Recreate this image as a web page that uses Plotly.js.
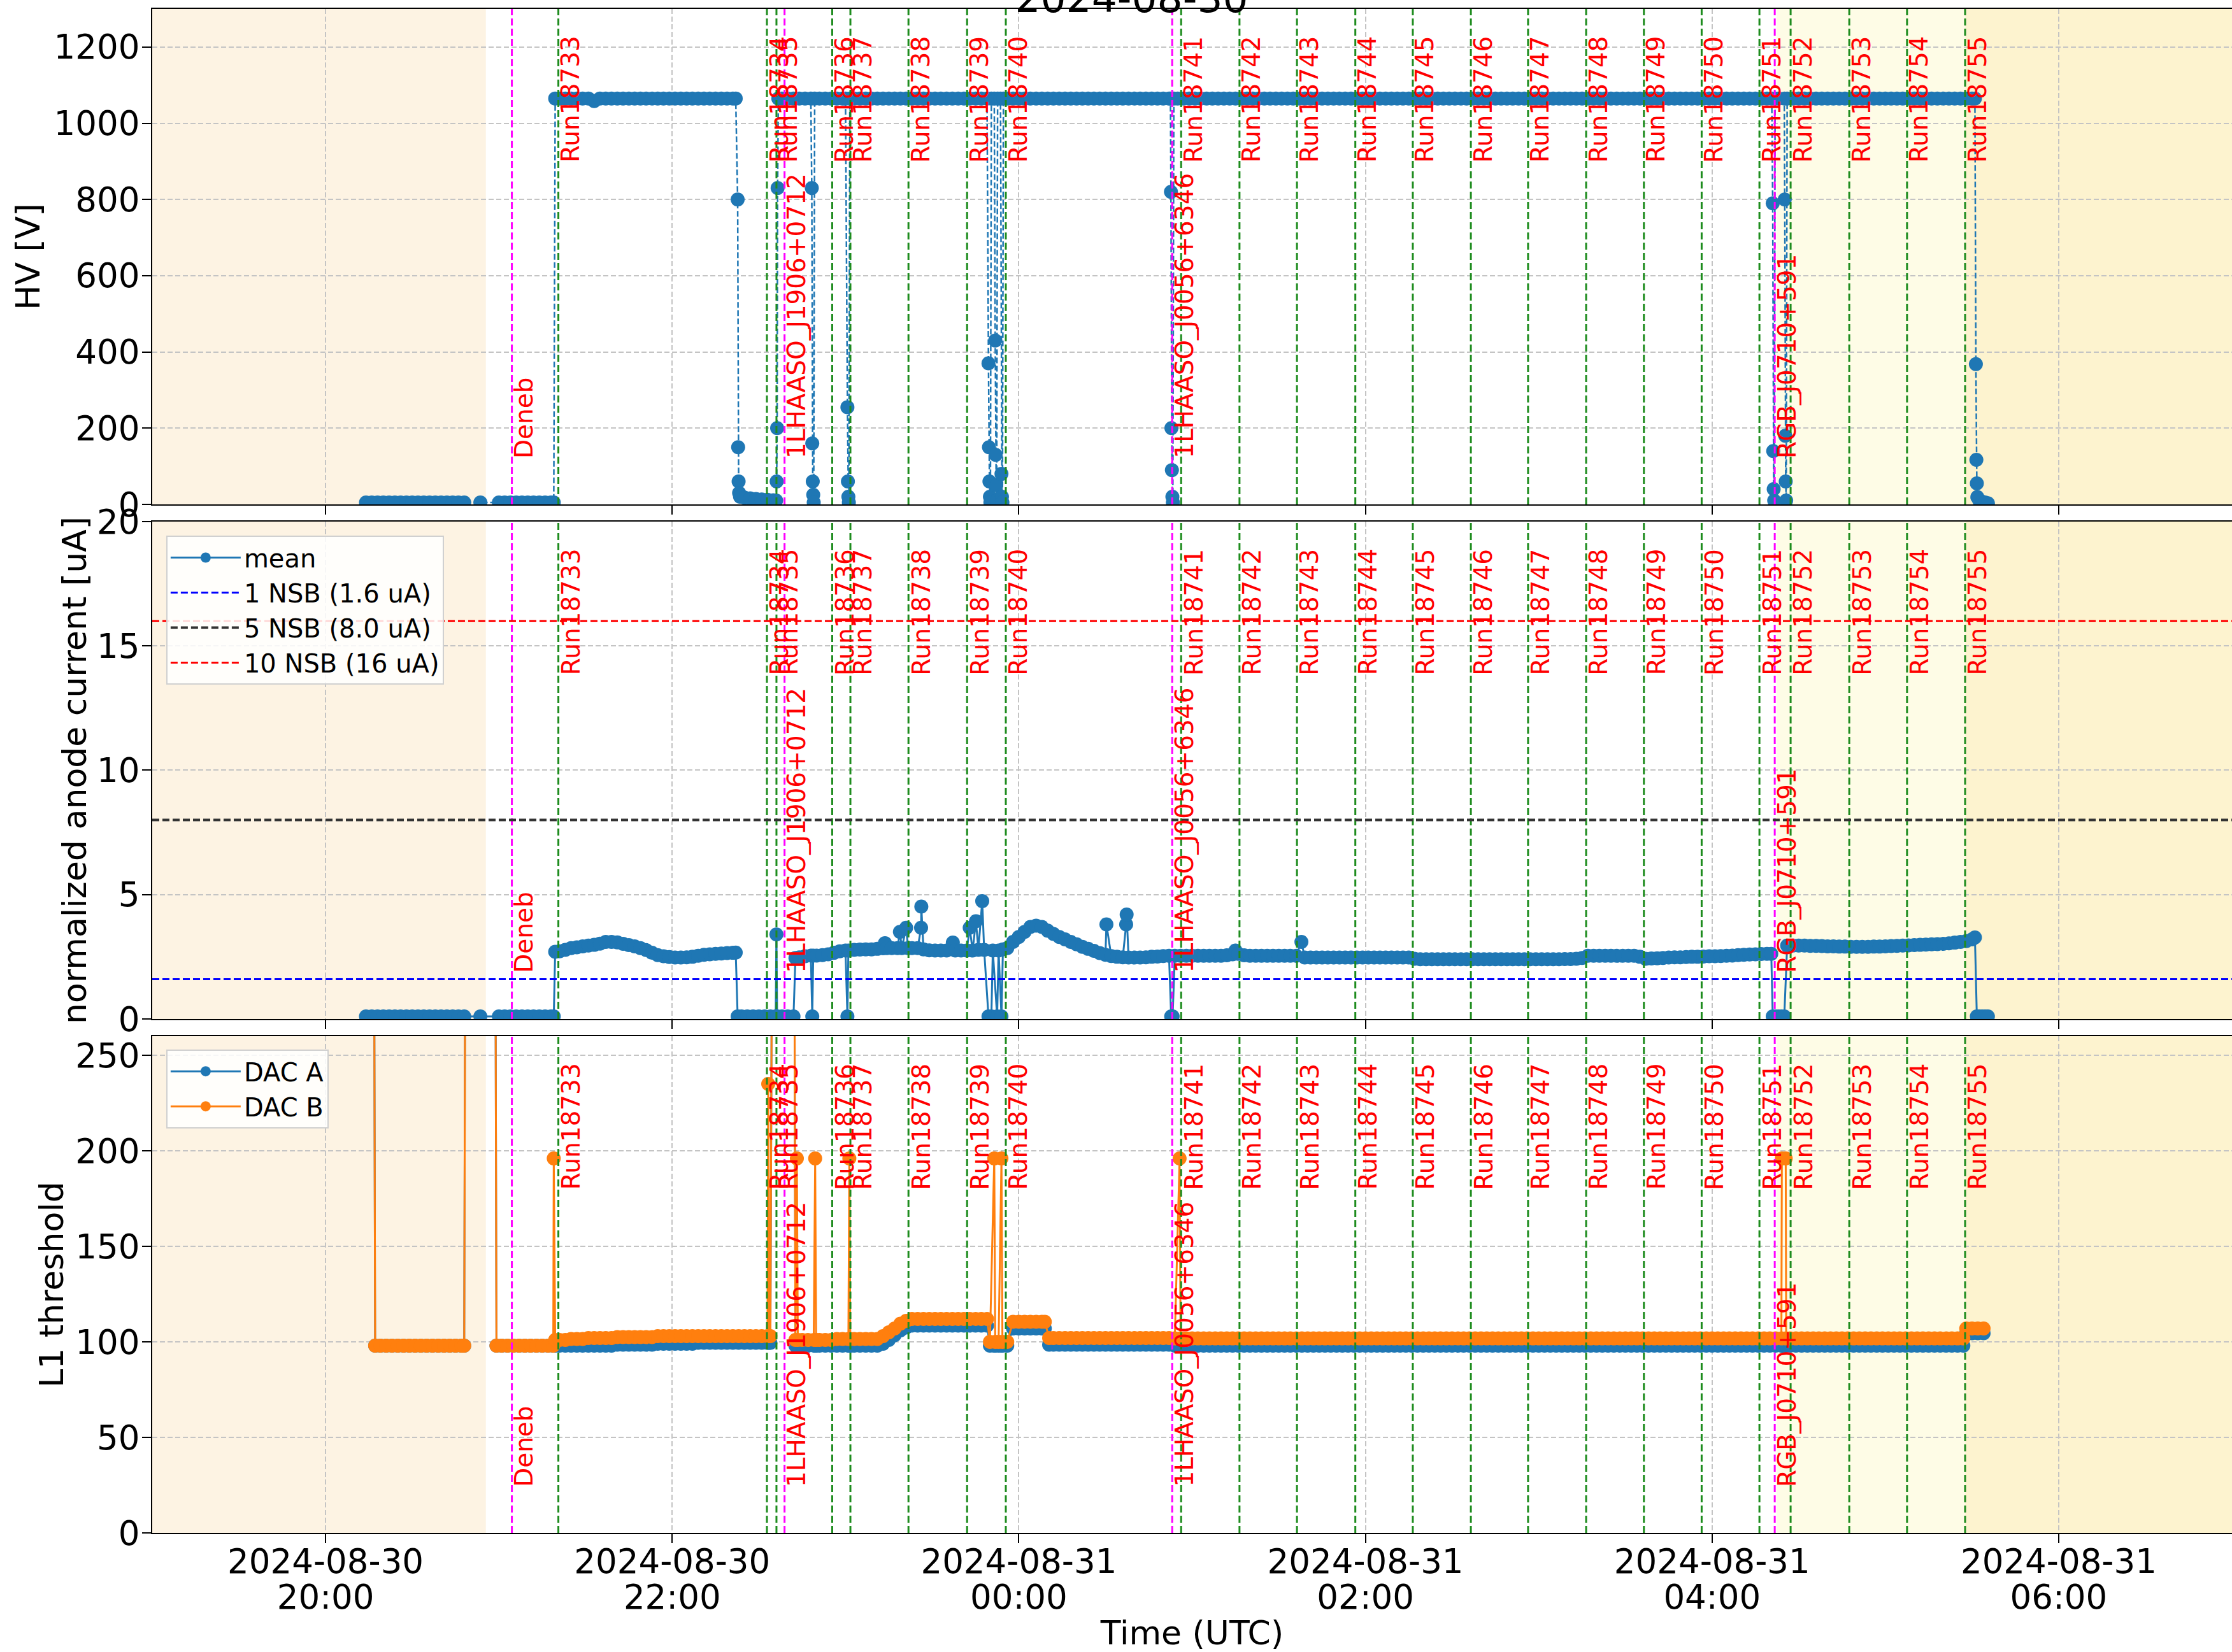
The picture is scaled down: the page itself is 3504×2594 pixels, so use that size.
<!DOCTYPE html>
<html>
<head>
<meta charset="utf-8">
<script src="https://cdn.plot.ly/plotly-3.0.1.min.js"></script>
<style>html,body{margin:0;padding:0;background:#fff;}#chart{width:3504px;height:2594px;}</style>
</head>
<body>
<div id="chart"></div>
<script>
// ---------------- DATA ----------------
const nightDate = '2024-08-30';
const xLimits = ['19:00', '07:00'];
const tickTimes = ['20:00', '22:00', '00:00', '02:00', '04:00', '06:00'];

// HV [V]
const hvTime = [
'20:14','20:16','20:18','20:20','20:22','20:24','20:26','20:28','20:30','20:32',
'20:34','20:36','20:38','20:40','20:42','20:44','20:46','20:48','20:53:36','21:00',
'21:02','21:04','21:06','21:08','21:10','21:12','21:14','21:16','21:18','21:19',
'21:19:30','21:21','21:23','21:25','21:27','21:29','21:31','21:33','21:35','21:37',
'21:39','21:41','21:43','21:45','21:47','21:49','21:51','21:53','21:55','21:57',
'21:59','22:01','22:03','22:05','22:07','22:09','22:11','22:13','22:15','22:17',
'22:19','22:21','22:22',
'22:22:40','22:22:50','22:23:00','22:23:10','22:23:30','22:25','22:27','22:29','22:31','22:33',
'22:35','22:36','22:36:10','22:36:20','22:36:30','22:36:45','22:38','22:40','22:42','22:44',
'22:46','22:48','22:48:20','22:48:30','22:48:40','22:48:50','22:49:00','22:49:20','22:51','22:53',
'22:55','22:57','22:59','23:00','23:00:40','23:00:50','23:01:00','23:01:10','23:01:30','23:03',
'23:05','23:07','23:09','23:11','23:13','23:15','23:17','23:19','23:21','23:23',
'23:25','23:27','23:29','23:31','23:33','23:35','23:37','23:39','23:41','23:43',
'23:45','23:47','23:49','23:49:30','23:49:40','23:49:50','23:50:00','23:50:10','23:50:30','23:51:30',
'23:51:50','23:52:00','23:52:10','23:52:20','23:52:40','23:53:40','23:54:00','23:54:10','23:54:20','23:54:40',
'23:56','23:58','00:00','00:02','00:04','00:06','00:08','00:10','00:12','00:14',
'00:16','00:18','00:20','00:22','00:24','00:26','00:28','00:30','00:32','00:34',
'00:36','00:38','00:40','00:42','00:44','00:46','00:48','00:50','00:52','00:52:30',
'00:52:40','00:52:50','00:53:00','00:53:10','00:53:20','00:53:40','00:55','00:57','00:59','01:01',
'01:03','01:05','01:07','01:09','01:11','01:13','01:15','01:17','01:19','01:21',
'01:23','01:25','01:27','01:29','01:31','01:33','01:35','01:37','01:39','01:41',
'01:43','01:45','01:47','01:49','01:51','01:53','01:55','01:57','01:59','02:01',
'02:03','02:05','02:07','02:09','02:11','02:13','02:15','02:17','02:19','02:21',
'02:23','02:25','02:27','02:29','02:31','02:33','02:35','02:37','02:39','02:41',
'02:43','02:45','02:47','02:49','02:51','02:53','02:55','02:57','02:59','03:01',
'03:03','03:05','03:07','03:09','03:11','03:13','03:15','03:17','03:19','03:21',
'03:23','03:25','03:27','03:29','03:31','03:33','03:35','03:37','03:39','03:41',
'03:43','03:45','03:47','03:49','03:51','03:53','03:55','03:57','03:59','04:01',
'04:03','04:05','04:07','04:09','04:11','04:13','04:15','04:17','04:19','04:20:40',
'04:21:00','04:21:10','04:21:20','04:21:30','04:21:50','04:23','04:25:00','04:25:10','04:25:20','04:25:30',
'04:25:40','04:26:00','04:28','04:30','04:32','04:34','04:36','04:38','04:40','04:42',
'04:44','04:46','04:48','04:50','04:52','04:54','04:56','04:58','05:00','05:02',
'05:04','05:06','05:08','05:10','05:12','05:14','05:16','05:18','05:20','05:22',
'05:24','05:26','05:28','05:30','05:31','05:31:20','05:31:30','05:31:40','05:31:50','05:32:30',
'05:33:30','05:34:30','05:35:30'
];
const hvValue = [
5,5,5,5,5,5,5,5,5,5,
5,5,5,5,5,5,5,5,5,5,
5,5,5,5,5,5,5,5,5,5,
1065,1065,1065,1065,1065,1065,1065,1058,1065,1065,
1065,1065,1065,1065,1065,1065,1065,1065,1065,1065,
1065,1065,1065,1065,1065,1065,1065,1065,1065,1065,
1065,1065,1065,
800,150,60,30,20,18,16,14,13,12,
11,10,60,200,830,1065,1065,1065,1065,1065,
1065,1065,830,160,60,25,5,1065,1065,1065,
1065,1065,1065,1065,255,60,20,5,1065,1065,
1065,1065,1065,1065,1065,1065,1065,1065,1065,1065,
1065,1065,1065,1065,1065,1065,1065,1065,1065,1065,
1065,1065,1065,370,150,60,20,5,1065,1065,
430,130,50,10,1065,1065,80,20,5,1065,
1065,1065,1065,1065,1065,1065,1065,1065,1065,1065,
1065,1065,1065,1065,1065,1065,1065,1065,1065,1065,
1065,1065,1065,1065,1065,1065,1065,1065,1065,1065,
820,200,90,20,5,1065,1065,1065,1065,1065,
1065,1065,1065,1065,1065,1065,1065,1065,1065,1065,
1065,1065,1065,1065,1065,1065,1065,1065,1065,1065,
1065,1065,1065,1065,1065,1065,1065,1065,1065,1065,
1065,1065,1065,1065,1065,1065,1065,1065,1065,1065,
1065,1065,1065,1065,1065,1065,1065,1065,1065,1065,
1065,1065,1065,1065,1065,1065,1065,1065,1065,1065,
1065,1065,1065,1065,1065,1065,1065,1065,1065,1065,
1065,1065,1065,1065,1065,1065,1065,1065,1065,1065,
1065,1065,1065,1065,1065,1065,1065,1065,1065,1065,
1065,1065,1065,1065,1065,1065,1065,1065,1065,1065,
790,140,40,10,1065,1065,1065,800,180,60,
10,1065,1065,1065,1065,1065,1065,1065,1065,1065,
1065,1065,1065,1065,1065,1065,1065,1065,1065,1065,
1065,1065,1065,1065,1065,1065,1065,1065,1065,1065,
1065,1065,1065,1065,1065,368,117,55,19,10,
7,5,3
];

// normalized anode current [uA], camera mean
const curTime = [
'20:14','20:16','20:18','20:20','20:22','20:24','20:26','20:28','20:30','20:32',
'20:34','20:36','20:38','20:40','20:42','20:44','20:46','20:48','20:53:36','21:00',
'21:02','21:04','21:06','21:08','21:10','21:12','21:14','21:16','21:18','21:19',
'21:19:30','21:21','21:23','21:25','21:27','21:29','21:31','21:33','21:35','21:37',
'21:39','21:41','21:43','21:45','21:47','21:49','21:51','21:53','21:55','21:57',
'21:59','22:01','22:03','22:05','22:07','22:09','22:11','22:13','22:15','22:17',
'22:19','22:21','22:22',
'22:22:40','22:24','22:26','22:28','22:30','22:32','22:34','22:35:50','22:36:05','22:36:20',
'22:38','22:40','22:42','22:42:40','22:44','22:46','22:48','22:48:30','22:48:50','22:50',
'22:52','22:54','22:56','22:58','23:00','23:00:40','23:01:00','23:03','23:05','23:07',
'23:09','23:11','23:13','23:13:40','23:14:20','23:16','23:18','23:18:50','23:19:30','23:21:00',
'23:21:40','23:23','23:25','23:26:10','23:26:15','23:27','23:29','23:31','23:33','23:35',
'23:37:10','23:38','23:40','23:42','23:43:00','23:44','23:45:10','23:46','23:47:20','23:48',
'23:49:30','23:50:30','23:51:00','23:52:30','23:53:00','23:54:00','23:54:30','23:56','23:58','00:00',
'00:02','00:04','00:06','00:08','00:10','00:12','00:14','00:16','00:18','00:20',
'00:22','00:24','00:26','00:28','00:30','00:30:20','00:32','00:34','00:36','00:37:10',
'00:37:20','00:38','00:40','00:42','00:44','00:46','00:48','00:50','00:52','00:52:45',
'00:53:15','00:54','00:56','00:58','01:00','01:02','01:04','01:06','01:08','01:10',
'01:12','01:14','01:15','01:16','01:18','01:20','01:22','01:24','01:26','01:28',
'01:30','01:32','01:34','01:36','01:37:50','01:39','01:41','01:43','01:45','01:47',
'01:49','01:51','01:53','01:55','01:57','01:59','02:01','02:03','02:05','02:07',
'02:09','02:11','02:13','02:15','02:17','02:19','02:21','02:23','02:25','02:27',
'02:29','02:31','02:33','02:35','02:37','02:39','02:41','02:43','02:45','02:47',
'02:49','02:51','02:53','02:55','02:57','02:59','03:01','03:03','03:05','03:07',
'03:09','03:11','03:13','03:15','03:17','03:19','03:21','03:23','03:25','03:27',
'03:29','03:31','03:33','03:35','03:37','03:39','03:41','03:43','03:45','03:47',
'03:49','03:51','03:53','03:55','03:57','03:59','04:01','04:03','04:05','04:07',
'04:09','04:11','04:13','04:15','04:17','04:19','04:20:30','04:21:00','04:22','04:23',
'04:24','04:25:00','04:26','04:28','04:30','04:32','04:34','04:36','04:38','04:40',
'04:42','04:44','04:46','04:48','04:50','04:52','04:54','04:56','04:58','05:00',
'05:02','05:04','05:06','05:08','05:10','05:12','05:14','05:16','05:18','05:20',
'05:22','05:24','05:26','05:28','05:30','05:31','05:31:40','05:32:30','05:33:30','05:34:30',
'05:35:30'
];
const curValue = [
0.1,0.1,0.1,0.1,0.1,0.1,0.1,0.1,0.1,0.1,
0.1,0.1,0.1,0.1,0.1,0.1,0.1,0.1,0.1,0.1,
0.1,0.1,0.1,0.1,0.1,0.1,0.1,0.1,0.1,0.1,
2.70,2.72,2.78,2.85,2.88,2.92,2.95,2.98,3.03,3.10,
3.10,3.08,3.02,2.97,2.92,2.85,2.77,2.66,2.57,2.52,
2.49,2.47,2.47,2.48,2.50,2.54,2.58,2.60,2.62,2.63,
2.65,2.66,2.67,
0.1,0.1,0.1,0.1,0.1,0.1,0.1,0.1,3.40,0.1,
0.1,0.1,0.1,2.45,2.48,2.52,2.55,0.1,2.55,2.55,
2.57,2.60,2.66,2.72,2.75,0.1,2.75,2.78,2.79,2.80,
2.80,2.82,2.84,3.05,2.85,2.85,2.85,3.50,2.85,3.67,
2.85,2.85,2.85,3.67,4.52,2.80,2.76,2.75,2.75,2.75,
3.07,2.75,2.75,2.75,3.67,2.75,3.93,2.78,4.74,2.78,
0.1,0.1,2.75,0.1,2.75,0.1,2.80,2.85,3.10,3.30,
3.50,3.70,3.75,3.70,3.55,3.42,3.30,3.20,3.10,3.00,
2.90,2.82,2.74,2.65,2.58,3.80,2.53,2.50,2.48,3.80,
4.20,2.47,2.47,2.47,2.48,2.50,2.51,2.53,2.54,0.1,
0.1,2.54,2.54,2.54,2.54,2.54,2.54,2.54,2.54,2.54,
2.56,2.60,2.75,2.62,2.56,2.54,2.54,2.54,2.54,2.54,
2.54,2.54,2.54,2.54,3.10,2.47,2.47,2.47,2.47,2.47,
2.47,2.47,2.47,2.47,2.47,2.47,2.47,2.47,2.47,2.47,
2.47,2.47,2.47,2.47,2.42,2.40,2.40,2.40,2.40,2.40,
2.40,2.40,2.40,2.40,2.40,2.40,2.40,2.40,2.40,2.40,
2.40,2.40,2.40,2.40,2.40,2.40,2.40,2.40,2.40,2.40,
2.41,2.41,2.42,2.45,2.54,2.54,2.54,2.54,2.54,2.54,
2.54,2.54,2.54,2.50,2.42,2.43,2.44,2.45,2.47,2.48,
2.48,2.49,2.50,2.50,2.51,2.52,2.52,2.53,2.54,2.55,
2.57,2.58,2.59,2.60,2.61,2.62,2.62,0.1,0.1,0.1,
0.1,0.1,2.95,2.95,2.95,2.95,2.94,2.94,2.93,2.92,
2.92,2.91,2.91,2.90,2.90,2.90,2.90,2.91,2.91,2.92,
2.93,2.94,2.95,2.96,2.97,2.98,2.99,3.00,3.01,3.02,
3.04,3.07,3.10,3.13,3.20,3.28,0.1,0.1,0.1,0.1,
0.1
];

// L1 threshold, DAC A and DAC B (values above 260 are off the top of the axis)
const dacTime = [
'20:16:50','20:17:10','20:19','20:21','20:23','20:25','20:27','20:29','20:31','20:33',
'20:35','20:37','20:39','20:41','20:43','20:45','20:47','20:48:00','20:48:20','20:58:50',
'20:59:10','21:01','21:03','21:05','21:07','21:09','21:11','21:13','21:15','21:17',
'21:18:50','21:19:00','21:19:30','21:21','21:23','21:25','21:27','21:29','21:31','21:33','21:35',
'21:37','21:39','21:41','21:43','21:45','21:47','21:49','21:51','21:53','21:55',
'21:57','21:59','22:01','22:03','22:05','22:07','22:09','22:11','22:13','22:15',
'22:17','22:19','22:21','22:23','22:25','22:27','22:29','22:31','22:33:00','22:33:15',
'22:33:40','22:34:00','22:34:30','22:42:20','22:42:40','22:43:10','22:43:30','22:45','22:47','22:49',
'22:49:30','22:49:50','22:51','22:53','22:55','22:57','22:59','23:01','23:01:20','23:01:40',
'23:03','23:05','23:07','23:09','23:11','23:13','23:15','23:17','23:19','23:21',
'23:23','23:25','23:27','23:29','23:31','23:33','23:35','23:37','23:39','23:41',
'23:43','23:45','23:47','23:49','23:50:00','23:51:30','23:51:50','23:53','23:54:00','23:54:20',
'23:56','23:58','00:00','00:02','00:04','00:06','00:08','00:09','00:10:30','00:12',
'00:14','00:16','00:18','00:20','00:22','00:24','00:26','00:28','00:30','00:32',
'00:34','00:36','00:38','00:40','00:42','00:44','00:46','00:48','00:50','00:52',
'00:54','00:55:40','00:56:00','00:58','01:00','01:02','01:04','01:06','01:08','01:10',
'01:12','01:14','01:16','01:18','01:20','01:22','01:24','01:26','01:28','01:30',
'01:32','01:34','01:36','01:38','01:40','01:42','01:44','01:46','01:48','01:50',
'01:52','01:54','01:56','01:58','02:00','02:02','02:04','02:06','02:08','02:10',
'02:12','02:14','02:16','02:18','02:20','02:22','02:24','02:26','02:28','02:30',
'02:32','02:34','02:36','02:38','02:40','02:42','02:44','02:46','02:48','02:50',
'02:52','02:54','02:56','02:58','03:00','03:02','03:04','03:06','03:08','03:10',
'03:12','03:14','03:16','03:18','03:20','03:22','03:24','03:26','03:28','03:30',
'03:32','03:34','03:36','03:38','03:40','03:42','03:44','03:46','03:48','03:50',
'03:52','03:54','03:56','03:58','04:00','04:02','04:04','04:06','04:08','04:10',
'04:12','04:14','04:16','04:18','04:20','04:22',
'04:24:00','04:24:10','04:25:30','04:25:40','04:27','04:29','04:31','04:33','04:35','04:37',
'04:39','04:41','04:43','04:45','04:47','04:49','04:51','04:53','04:55','04:57',
'04:59','05:01','05:03','05:05','05:07','05:09','05:11','05:13','05:15','05:17',
'05:19','05:21','05:23','05:25','05:27','05:28:00','05:30','05:32','05:34'
];
const dacA = [
300,98,98,98,98,98,98,98,98,98,
98,98,98,98,98,98,98,98,300,300,
98,98,98,98,98,98,98,98,98,98,
98,98,98,98,98,98,98,98,98,98,98,
98,98,98.5,98.5,98.5,98.5,98.5,98.5,98.5,99,
99,99,99,99,99,99,99.5,99.5,99.5,99.5,
99.5,99.5,99.5,99.5,99.5,99.5,99.5,99.5,99.5,99.5,
99.5,99.5,300,300,98,98,98,98,98,98,
98,98,98,98,98,98,98,98,98,98,
98,98,98,98,98,99,101,103.5,106,107.5,
108.5,108.5,108.5,108.5,108.5,108.5,108.5,108.5,108.5,108.5,
108.5,108.5,108.5,108.5,98,98,98,98,98,98,
98,107,107,107,107,107,107,107,98.5,98.5,
98.5,98.5,98.5,98.5,98.5,98.5,98.5,98.5,98.5,98.5,
98.5,98.5,98.5,98.5,98.5,98.5,98.5,98.5,98.5,98.5,
98,98,98,98,98,98,98,98,98,98,
98,98,98,98,98,98,98,98,98,98,
98,98,98,98,98,98,98,98,98,98,
98,98,98,98,98,98,98,98,98,98,
98,98,98,98,98,98,98,98,98,98,
98,98,98,98,98,98,98,98,98,98,
98,98,98,98,98,98,98,98,98,98,
98,98,98,98,98,98,98,98,98,98,
98,98,98,98,98,98,98,98,98,98,
98,98,98,98,98,98,98,98,98,98,
98,98,98,98,98,98,
98,98,98,98,98,98,98,98,98,98,
98,98,98,98,98,98,98,98,98,98,
98,98,98,98,98,98,98,98,98,98,
98,98,98,98,98,104.5,104.5,104.5,104.5
];
const dacB = [
300,98,98,98,98,98,98,98,98,98,
98,98,98,98,98,98,98,98,300,300,
98,98,98,98,98,98,98,98,98,98,
98,196,101,101,101,101.5,101.5,101.5,102,102,102,
102,102,102.5,102.5,102.5,102.5,102.5,102.5,102.5,103,
103,103,103,103,103,103,103,103,103,103,
103,103,103,103,103,103,103,103,103,235,
103,103,300,300,101,196,101,101,101,101,
196,101,101,101,101,101.5,101.5,101.5,196,101.5,
101.5,101.5,101.5,101.5,101.5,103,105,107,109.5,111,
112,112,112,112,112,112,112,112,112,112,
112,112,112,112,100,196,100,100,196,100,
100,110.5,110.5,110.5,110.5,110.5,110.5,110.5,102,102,
102,102,102,102,102,102,102,102,102,102,
102,102,102,102,102,102,102,102,102,102,
101.8,196,101.8,101.8,101.8,101.8,101.8,101.8,101.8,101.8,
101.8,101.8,101.8,101.8,101.8,101.8,101.8,101.8,101.8,101.8,
101.8,101.8,101.8,101.8,101.8,101.8,101.8,101.8,101.8,101.8,
101.8,101.8,101.8,101.8,101.8,101.8,101.8,101.8,101.8,101.8,
101.8,101.8,101.8,101.8,101.8,101.8,101.8,101.8,101.8,101.8,
101.8,101.8,101.8,101.8,101.8,101.8,101.8,101.8,101.8,101.8,
101.8,101.8,101.8,101.8,101.8,101.8,101.8,101.8,101.8,101.8,
101.8,101.8,101.8,101.8,101.8,101.8,101.8,101.8,101.8,101.8,
101.8,101.8,101.8,101.8,101.8,101.8,101.8,101.8,101.8,101.8,
101.8,101.8,101.8,101.8,101.8,101.8,101.8,101.8,101.8,101.8,
101.8,101.8,101.8,101.8,101.8,101.8,
101.8,196,196,101.8,101.8,101.8,101.8,101.8,101.8,101.8,
101.8,101.8,101.8,101.8,101.8,101.8,101.8,101.8,101.8,101.8,
101.8,101.8,101.8,101.8,101.8,101.8,101.8,101.8,101.8,101.8,
101.8,101.8,101.8,101.8,101.8,107,107,107,107
];

// NSB reference levels (middle panel)
const nsbNames = ['1 NSB (1.6 uA)', '5 NSB (8.0 uA)', '10 NSB (16 uA)'];
const nsbLevels = [1.6, 8.0, 16];

// Runs and targets
const runNames = ['Run18733','Run18734','Run18735','Run18736','Run18737','Run18738','Run18739','Run18740',
  'Run18741','Run18742','Run18743','Run18744','Run18745','Run18746','Run18747','Run18748','Run18749',
  'Run18750','Run18751','Run18752','Run18753','Run18754','Run18755'];
const runTimes = ['21:20:36','22:32:48','22:36:06','22:55:24','23:01:42','23:21:48','23:42:06','23:55:30',
  '00:56:12','01:16:24','01:36:18','01:56:30','02:16:24','02:36:30','02:56:18','03:16:24','03:36:24',
  '03:56:24','04:16:24','04:27:12','04:47:30','05:07:30','05:27:36'];
const targetNames = ['Deneb', '1LHAASO_J1906+0712', '1LHAASO_J0056+6346', 'RGB_J0710+591'];
const targetTimes = ['21:04:30', '22:38:54', '00:53:06', '04:21:42'];

// Sky-condition shading intervals
const shadeStart = ['19:00', '04:22:20', '05:27:40'];
const shadeEnd = ['20:55:30', '05:27:40', '07:00'];

// ---------------- helpers ----------------
function ts(s) {
  const h = parseInt(s.slice(0, 2), 10);
  const d = h >= 12 ? '2024-08-30' : '2024-08-31';
  return d + ' ' + (s.length === 5 ? s + ':00' : s);
}
[[hvTime, hvValue], [curTime, curValue], [dacTime, dacA], [dacTime, dacB]].forEach(function (p, i) {
  if (p[0].length !== p[1].length) console.error('length mismatch in series ' + i, p[0].length, p[1].length);
});
const FONT = 'DejaVu Sans, Verdana, sans-serif';
const BLUE = '#1f77b4', ORANGE = '#ff7f0e';
const shadeColors = ['#fdf3e3', '#fefce6', '#fdf3cf'];

function markerStyle(c) {
  return {size: 22, color: c, symbol: 'circle', line: {width: 0}};
}

const xr = [ts(xLimits[0]), ts(xLimits[1])];
const tv = tickTimes.map(ts);

const traces = [
  {x: hvTime.map(ts), y: hvValue, xaxis: 'x', yaxis: 'y', type: 'scatter', mode: 'lines+markers',
   name: 'HV', showlegend: false, line: {color: BLUE, width: 2.5, dash: '9px,4px'}, marker: markerStyle(BLUE)},
  {x: curTime.map(ts), y: curValue, xaxis: 'x2', yaxis: 'y2', type: 'scatter', mode: 'lines+markers',
   name: 'mean', legend: 'legend', line: {color: BLUE, width: 3}, marker: markerStyle(BLUE)},
  {x: dacTime.map(ts), y: dacA, xaxis: 'x3', yaxis: 'y3', type: 'scatter', mode: 'lines+markers',
   name: 'DAC A', legend: 'legend2', line: {color: BLUE, width: 3}, marker: markerStyle(BLUE)},
  {x: dacTime.map(ts), y: dacB, xaxis: 'x3', yaxis: 'y3', type: 'scatter', mode: 'lines+markers',
   name: 'DAC B', legend: 'legend2', line: {color: ORANGE, width: 3}, marker: markerStyle(ORANGE)},
  // empty carrier so the overlaid axis holding the clock-time row of tick labels is drawn
  {x: [tv[0]], y: [null], xaxis: 'x4', yaxis: 'y3', type: 'scatter', mode: 'markers',
   showlegend: false, hoverinfo: 'skip', marker: {opacity: 0}}
];

const panels = [
  {xa: 'x', ya: 'y'},
  {xa: 'x2', ya: 'y2'},
  {xa: 'x3', ya: 'y3'}
];

const shapes = [];
const annotations = [];
panels.forEach(function (p) {
  shadeStart.forEach(function (s, i) {
    shapes.push({type: 'rect', layer: 'below', xref: p.xa, yref: p.ya + ' domain',
      x0: ts(s), x1: ts(shadeEnd[i]), y0: 0, y1: 1, fillcolor: shadeColors[i], line: {width: 0}});
  });
  runTimes.forEach(function (t, i) {
    shapes.push({type: 'line', layer: 'above', xref: p.xa, yref: p.ya + ' domain',
      x0: ts(t), x1: ts(t), y0: 0, y1: 1, line: {color: '#1e8c1e', width: 3, dash: '11px,5px'}});
    annotations.push({xref: p.xa, yref: p.ya + ' domain', x: ts(t), y: 0.948, text: runNames[i],
      textangle: -90, xanchor: 'left', yanchor: 'top', showarrow: false, xshift: -5,
      font: {family: FONT, size: 39, color: '#ff0000'}});
  });
  targetTimes.forEach(function (t, i) {
    shapes.push({type: 'line', layer: 'above', xref: p.xa, yref: p.ya + ' domain',
      x0: ts(t), x1: ts(t), y0: 0, y1: 1, line: {color: '#ff00ff', width: 3, dash: '11px,5px'}});
    annotations.push({xref: p.xa, yref: p.ya + ' domain', x: ts(t), y: 0.09, text: targetNames[i],
      textangle: -90, xanchor: 'left', yanchor: 'bottom', showarrow: false, xshift: -5,
      font: {family: FONT, size: 39, color: '#ff0000'}});
  });
});
const nsbColors = ['#0000ff', '#333333', '#ff0000'];
nsbLevels.forEach(function (v, i) {
  shapes.push({type: 'line', layer: 'above', xref: 'x2 domain', yref: 'y2', x0: 0, x1: 1, y0: v, y1: v,
    line: {color: nsbColors[i], width: i === 1 ? 4 : 3, dash: '11px,5px'},
    showlegend: true, name: nsbNames[i], legend: 'legend'});
});

const TICKFONT = {family: FONT, size: 53, color: '#000'};
const axisCommon = {
  showline: true, linecolor: '#000', linewidth: 2, mirror: true,
  ticks: 'outside', ticklen: 14, tickwidth: 2, tickcolor: '#000',
  showgrid: true, gridcolor: '#c4c4c4', gridwidth: 2, griddash: '8px,4px',
  zeroline: false, tickfont: TICKFONT
};
const tDates = tickTimes.map(function (t) { return ts(t).slice(0, 10); });
function xAxis(anchor, labels) {
  return Object.assign({}, axisCommon, {type: 'date', anchor: anchor, domain: [0, 1], range: xr,
    tickmode: 'array', tickvals: tv, ticktext: tDates, showticklabels: labels});
}
const titleFont = {family: FONT, size: 52, color: '#000'};
const yExtra = {ticklabelstandoff: -7};

const layout = {
  width: 3504, height: 2594,
  margin: {l: 239, r: 0, t: 14, b: 187},
  paper_bgcolor: '#fff', plot_bgcolor: '#fff',
  font: {family: FONT, color: '#000'},
  title: {text: nightDate, font: {family: FONT, size: 63, color: '#000'}, xref: 'container', x: 0.507,
    xanchor: 'center', yref: 'container', y: 0.9927, yanchor: 'bottom', pad: {t: 0, b: 0, l: 0, r: 0}},
  xaxis: xAxis('y', false),
  xaxis2: Object.assign(xAxis('y2', false), {matches: 'x'}),
  xaxis3: Object.assign(xAxis('y3', true), {matches: 'x', ticklabelstandoff: -17}),
  // second row of the bottom tick labels (clock time) on an overlaid axis
  xaxis4: {type: 'date', overlaying: 'x3', anchor: 'y3', side: 'bottom', range: xr,
    showline: false, showgrid: false, zeroline: false, ticks: 'outside', ticklen: 14, tickcolor: 'rgba(0,0,0,0)',
    tickmode: 'array', tickvals: tv, ticktext: tickTimes, tickfont: TICKFONT, ticklabelstandoff: 40,
    title: {text: 'Time (UTC)', font: titleFont, standoff: 37}},
  yaxis: Object.assign({}, axisCommon, yExtra, {anchor: 'x', domain: [0.67489, 1], range: [0, 1300], dtick: 200, tick0: 0,
    title: {text: 'HV [V]', font: titleFont, standoff: 5}}),
  yaxis2: Object.assign({}, axisCommon, yExtra, {anchor: 'x2', domain: [0.33724, 0.66360], range: [0, 20], dtick: 5, tick0: 0,
    title: {text: 'normalized anode current [uA]', font: titleFont, standoff: 0}}),
  yaxis3: Object.assign({}, axisCommon, yExtra, {anchor: 'x3', domain: [0, 0.32595], range: [0, 260], dtick: 50, tick0: 0,
    title: {text: 'L1 threshold', font: titleFont, standoff: 2}}),
  legend: {x: 0.0067, y: 0.6544, xanchor: 'left', yanchor: 'top', bgcolor: 'rgba(255,255,255,0.85)',
    bordercolor: '#d0d0d0', borderwidth: 2, itemwidth: 110, font: {family: FONT, size: 40, color: '#000'}},
  legend2: {x: 0.0067, y: 0.3173, xanchor: 'left', yanchor: 'top', bgcolor: 'rgba(255,255,255,0.85)',
    bordercolor: '#d0d0d0', borderwidth: 2, itemwidth: 110, font: {family: FONT, size: 40, color: '#000'}},
  shapes: shapes,
  annotations: annotations,
  showlegend: true
};

Plotly.newPlot('chart', traces, layout, {displayModeBar: false, staticPlot: true});
</script>
</body>
</html>
